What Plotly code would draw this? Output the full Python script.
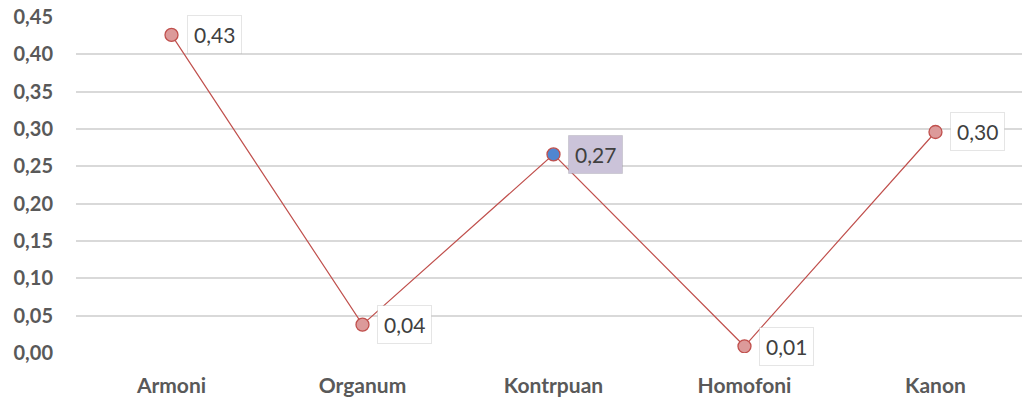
import plotly.graph_objects as go

categories = ["Armoni", "Organum", "Kontrpuan", "Homofoni", "Kanon"]
values = [0.426, 0.038, 0.266, 0.009, 0.296]
y_ticks = [0.00, 0.05, 0.10, 0.15, 0.20, 0.25, 0.30, 0.35, 0.40, 0.45]

highlight_index = 2
marker_fill = ["#dc9a9a"] * len(categories)
marker_fill[highlight_index] = "#4f86d0"

font_family = "Lato, 'Open Sans', sans-serif"
grey = "#595959"

fig = go.Figure()
fig.add_trace(go.Scatter(
    x=categories,
    y=values,
    mode="lines+markers",
    line=dict(color="#c0504d", width=1.2),
    marker=dict(size=13, color=marker_fill, line=dict(color="#c0504d", width=1.3)),
    showlegend=False,
    hoverinfo="skip",
))

# value labels in boxes to the right of each point
for i, (c, v) in enumerate(zip(categories, values)):
    fig.add_annotation(
        x=c, y=v,
        text=f"{v:.2f}".replace(".", ","),
        showarrow=False,
        xanchor="left", yanchor="middle",
        xshift=15,
        font=dict(family=font_family, size=21, color="#404040"),
        bgcolor="#cbc3d9" if i == highlight_index else "#ffffff",
        bordercolor="rgba(0,0,0,0.10)",
        borderwidth=1,
        borderpad=6,
    )

fig.update_layout(
    width=1022, height=400,
    margin=dict(l=76, r=0, t=17, b=47),
    plot_bgcolor="white",
    paper_bgcolor="white",
    separators=",.",
    font=dict(family=font_family, color=grey),
    xaxis=dict(
        type="category",
        range=[-0.5, 4.453],
        showgrid=False,
        showline=False,
        zeroline=False,
        ticks="",
        ticklabelstandoff=18,
        tickfont=dict(family=font_family, size=21, color=grey, weight="bold"),
    ),
    yaxis=dict(
        range=[0, 0.45],
        tickvals=y_ticks,
        ticktext=[f"{t:.2f}".replace(".", ",") for t in y_ticks],
        showgrid=True,
        gridcolor="#d9d9d9",
        gridwidth=1.5,
        zeroline=False,
        showline=False,
        ticks="",
        ticklabelstandoff=22,
        tickfont=dict(family=font_family, size=20, color=grey, weight="bold"),
    ),
)

fig.write_html("out.html")
